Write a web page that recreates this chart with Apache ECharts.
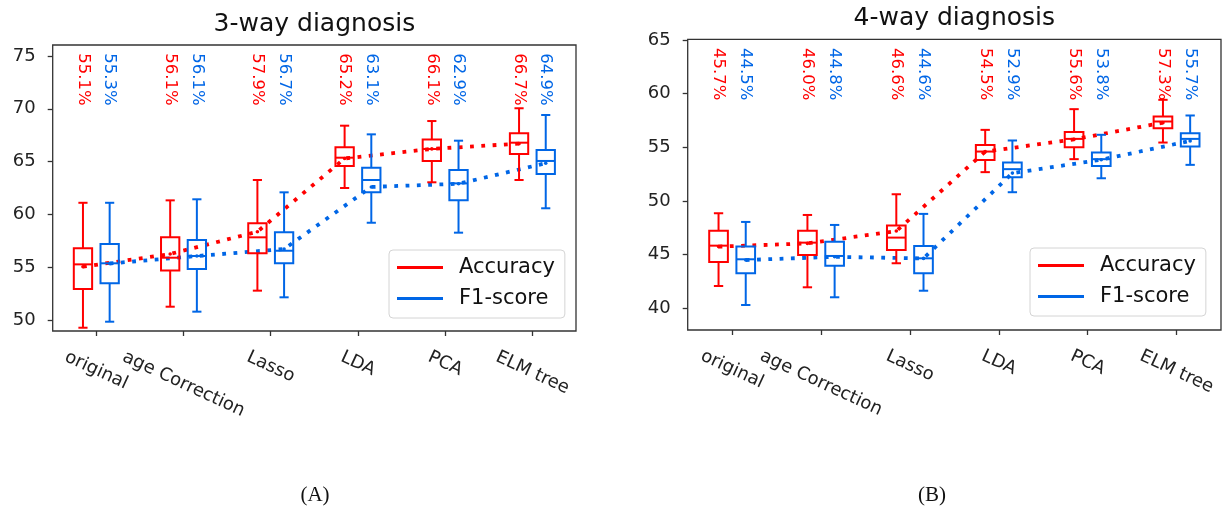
<!DOCTYPE html>
<html>
<head>
<meta charset="utf-8">
<script src="https://cdn.jsdelivr.net/npm/echarts@6/dist/echarts.min.js"></script>
<style>
  html, body { margin: 0; padding: 0; background: #fff; }
  #chart { width: 1225px; height: 511px; }
</style>
</head>
<body>
<div id="chart"></div>
<script>
// ---- data ----
const categories = ['original', 'age Correction', 'Lasso', 'LDA', 'PCA', 'ELM tree'];
const yTicks3 = [50, 55, 60, 65, 70, 75];
const yTicks4 = [40, 45, 50, 55, 60, 65];

// [whisker low, Q1, median, Q3, whisker high]
const acc3Box = [
    [49.27, 52.94, 55.27, 56.80, 61.10],
    [51.26, 54.70, 55.90, 57.83, 61.33],
    [52.78, 56.31, 57.83, 59.16, 63.26],
    [62.50, 64.58, 65.37, 66.35, 68.40],
    [63.04, 65.06, 66.19, 67.10, 68.84],
    [63.26, 65.72, 66.79, 67.68, 70.05]
];
const f13Box = [
    [49.84, 53.47, 55.37, 57.20, 61.10],
    [50.79, 54.83, 56.06, 57.58, 61.43],
    [52.15, 55.37, 56.56, 58.30, 62.09],
    [59.21, 62.09, 63.26, 64.42, 67.58],
    [58.27, 61.33, 62.94, 64.20, 66.98],
    [60.58, 63.83, 65.06, 66.10, 69.41]
];
const acc3Mean = [55.05, 56.25, 58.36, 65.30, 66.20, 66.70];
const f13Mean = [55.35, 56.06, 56.72, 62.60, 62.90, 64.85];
const acc3Text = [55.1, 56.1, 57.9, 65.2, 66.1, 66.7];
const f13Text = [55.3, 56.1, 56.7, 63.1, 62.9, 64.9];

const acc4Box = [
    [42.08, 44.32, 45.84, 47.24, 48.86],
    [41.96, 44.97, 46.12, 47.24, 48.70],
    [44.20, 45.44, 46.59, 47.71, 50.63],
    [52.69, 53.83, 54.61, 55.23, 56.63],
    [53.90, 55.02, 55.79, 56.42, 58.56],
    [55.45, 56.79, 57.41, 57.87, 59.43]
];
const f14Box = [
    [40.31, 43.26, 44.57, 45.75, 48.05],
    [41.03, 43.97, 44.88, 46.21, 47.77],
    [41.64, 43.26, 44.66, 45.81, 48.80],
    [50.82, 52.22, 52.97, 53.59, 55.64],
    [52.12, 53.27, 53.90, 54.52, 56.17],
    [53.37, 55.07, 55.79, 56.32, 57.97]
];
const acc4Mean = [45.75, 46.05, 47.20, 54.60, 55.75, 57.30];
const f14Mean = [44.50, 44.80, 44.65, 52.60, 53.85, 55.60];
const acc4Text = [45.7, 46.0, 46.6, 54.5, 55.6, 57.3];
const f14Text = [44.5, 44.8, 44.6, 52.9, 53.8, 55.7];

// ---- styling ----
const RED = '#ff0000';
const BLUE = '#0066e6';
const FONT = 'DejaVu Sans';
const OFFSET = 0.153;   // box shift from category centre, in category units
const BOX_W = 0.21;     // box width, in category units
const X_ROT = 25 * Math.PI / 180;
const X_FS = 18;

const measureCtx = document.createElement('canvas').getContext('2d');
function textWidth(s, size) {
    measureCtx.font = size + 'px "' + FONT + '"';
    return measureCtx.measureText(s).width;
}

function boxSeries(box, means, texts, off, color, xIdx, yIdx, textTop) {
    return {
        type: 'custom',
        xAxisIndex: xIdx,
        yAxisIndex: yIdx,
        z: 3,
        silent: true,
        data: box.map((b, i) => [i, b[0], b[1], b[2], b[3], b[4], means[i], texts[i]]),
        encode: { x: 0, y: [1, 2, 3, 4, 5] },
        renderItem(params, api) {
            const x = api.value(0) + off;
            const py = v => api.coord([x, v])[1];
            const cx = api.coord([x, api.value(3)])[0];
            const w = api.size([BOX_W, 0])[0];
            const cap = w / 2;
            const ls = { stroke: color, lineWidth: 2, fill: null };
            const lo = py(api.value(1)), q1 = py(api.value(2)), md = py(api.value(3));
            const q3 = py(api.value(4)), hi = py(api.value(5)), mn = py(api.value(6));
            return {
                type: 'group',
                children: [
                    { type: 'rect', shape: { x: cx - w / 2, y: q3, width: w, height: q1 - q3 }, style: ls },
                    { type: 'line', shape: { x1: cx - w / 2, y1: md, x2: cx + w / 2, y2: md }, style: ls },
                    { type: 'line', shape: { x1: cx, y1: q3, x2: cx, y2: hi }, style: ls },
                    { type: 'line', shape: { x1: cx, y1: q1, x2: cx, y2: lo }, style: ls },
                    { type: 'line', shape: { x1: cx - cap / 2, y1: hi, x2: cx + cap / 2, y2: hi }, style: ls },
                    { type: 'line', shape: { x1: cx - cap / 2, y1: lo, x2: cx + cap / 2, y2: lo }, style: ls },
                    { type: 'circle', shape: { cx: cx, cy: mn, r: 1.8 }, style: { fill: color } },
                    {
                        type: 'text', x: cx, y: py(textTop), rotation: -Math.PI / 2,
                        style: {
                            text: api.value(7).toFixed(1) + '%', fill: color,
                            fontSize: 16.5, fontFamily: FONT, align: 'left', verticalAlign: 'middle'
                        }
                    }
                ]
            };
        }
    };
}

function meanLine(name, means, off, color, xIdx, yIdx) {
    return {
        type: 'line',
        name: name,
        xAxisIndex: xIdx,
        yAxisIndex: yIdx,
        data: means.map((v, i) => [i + off, v]),
        symbol: 'none',
        silent: true,
        z: 2,
        itemStyle: { color: color },
        lineStyle: { color: color, width: 3.8, type: [3.8, 7.5], cap: 'butt' }
    };
}

// rotated tick labels, centred on the tick like matplotlib does
function catLabels(xIdx, yIdx) {
    return {
        type: 'custom',
        xAxisIndex: xIdx,
        yAxisIndex: yIdx,
        silent: true,
        data: categories.map((c, i) => [i, 0]),
        encode: { x: 0, y: 1 },
        renderItem(params, api) {
            const i = api.value(0);
            const name = categories[i];
            const x = api.coord([i, 0])[0];
            const base = params.coordSys.y + params.coordSys.height;
            const w = textWidth(name, X_FS);
            const cy = base + 17 + (w / 2) * Math.sin(X_ROT) + (X_FS / 2) * Math.cos(X_ROT);
            return {
                type: 'text', x: x, y: cy, rotation: -X_ROT,
                style: {
                    text: name, fill: '#222', fontSize: X_FS, fontFamily: FONT,
                    align: 'center', verticalAlign: 'middle'
                }
            };
        }
    };
}

const tickLine = { color: '#333', width: 1.3 };

function catAxis(gridIndex) {
    return {
        gridIndex: gridIndex, type: 'category', data: categories, boundaryGap: true,
        axisLine: { show: false, onZero: false },
        axisTick: { show: true, alignWithLabel: true, interval: 0, length: 5, lineStyle: tickLine },
        axisLabel: { show: false },
        splitLine: { show: false }
    };
}
function posAxis(gridIndex) {
    return { gridIndex: gridIndex, type: 'value', min: -0.5, max: 5.5, show: false, axisLine: { onZero: false } };
}
function valAxis(gridIndex, min, max, ticks) {
    return {
        gridIndex: gridIndex, type: 'value', min: min, max: max,
        axisLine: { show: false, onZero: false },
        axisTick: { show: true, length: 5, lineStyle: tickLine, customValues: ticks },
        splitLine: { show: false },
        axisLabel: { fontSize: 18, fontFamily: FONT, color: '#222', margin: 17, customValues: ticks }
    };
}
function legendAt(left, top) {
    return {
        data: ['Accuracy', 'F1-score'],
        orient: 'vertical', left: left, top: top,
        icon: 'rect', itemWidth: 46, itemHeight: 3, itemGap: 10,
        padding: [7, 10, 9, 8],
        backgroundColor: 'rgba(255,255,255,0.85)',
        borderColor: '#d4d4d4', borderWidth: 1, borderRadius: 4,
        selectedMode: false,
        textStyle: { fontSize: 21, fontFamily: FONT, color: '#111', padding: [0, 0, 0, 11] }
    };
}

const chart = echarts.init(document.getElementById('chart'));

chart.setOption({
    animation: false,
    backgroundColor: '#fff',
    grid: [
        { left: 52.7, top: 45, width: 523.3, height: 286, show: true, borderColor: '#333', borderWidth: 1.3, backgroundColor: 'transparent' },
        { left: 687.7, top: 39.3, width: 533.3, height: 290.7, show: true, borderColor: '#333', borderWidth: 1.3, backgroundColor: 'transparent' }
    ],
    xAxis: [catAxis(0), posAxis(0), catAxis(1), posAxis(1)],
    yAxis: [valAxis(0, 48.96, 76.04, yTicks3), valAxis(1, 37.98, 65.07, yTicks4)],
    legend: [legendAt(389, 250), legendAt(1030, 248)],
    graphic: [
        { type: 'text', x: 314.4, y: 24.5, style: { text: '3-way diagnosis', fontSize: 25, fontFamily: FONT, fill: '#111', align: 'center', verticalAlign: 'middle' } },
        { type: 'text', x: 954.3, y: 18, style: { text: '4-way diagnosis', fontSize: 25, fontFamily: FONT, fill: '#111', align: 'center', verticalAlign: 'middle' } },
        { type: 'text', x: 315, y: 495, style: { text: '(A)', fontSize: 21, fontFamily: 'Liberation Serif', fill: '#111', align: 'center', verticalAlign: 'middle' } },
        { type: 'text', x: 932, y: 495, style: { text: '(B)', fontSize: 21, fontFamily: 'Liberation Serif', fill: '#111', align: 'center', verticalAlign: 'middle' } }
    ],
    series: [
        meanLine('Accuracy', acc3Mean, -OFFSET, RED, 1, 0),
        meanLine('F1-score', f13Mean, OFFSET, BLUE, 1, 0),
        boxSeries(acc3Box, acc3Mean, acc3Text, -OFFSET, RED, 1, 0, 75.25),
        boxSeries(f13Box, f13Mean, f13Text, OFFSET, BLUE, 1, 0, 75.25),
        catLabels(1, 0),
        meanLine('Accuracy', acc4Mean, -OFFSET, RED, 3, 1),
        meanLine('F1-score', f14Mean, OFFSET, BLUE, 3, 1),
        boxSeries(acc4Box, acc4Mean, acc4Text, -OFFSET, RED, 3, 1, 64.25),
        boxSeries(f14Box, f14Mean, f14Text, OFFSET, BLUE, 3, 1, 64.25),
        catLabels(3, 1)
    ]
});
</script>
</body>
</html>
